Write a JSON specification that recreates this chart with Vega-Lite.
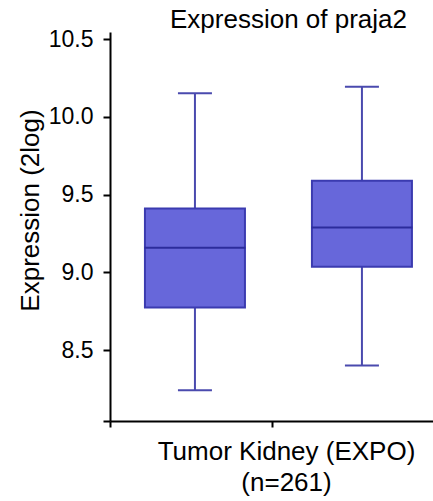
{
  "$schema": "https://vega.github.io/schema/vega-lite/v6.json",
  "autosize": {"type": "none"},
  "padding": {"left": 110, "top": 32, "right": 0, "bottom": 80},
  "width": 323,
  "height": 389,
  "background": "white",
  "title": {
    "text": "Expression of praja2",
    "font": "Liberation Sans",
    "fontSize": 26,
    "fontWeight": "normal",
    "color": "black",
    "anchor": "middle",
    "baseline": "alphabetic",
    "offset": 3,
    "dx": 17,
    "dy": 29
  },
  "data": {
    "values": [
      {"group": "A", "pos": 0.526, "lower": 8.243, "q1": 8.775, "median": 9.158, "q3": 9.411, "upper": 10.151},
      {"group": "B", "pos": 1.56, "lower": 8.402, "q1": 9.036, "median": 9.289, "q3": 9.589, "upper": 10.193}
    ]
  },
  "encoding": {
    "x": {
      "field": "pos",
      "type": "quantitative",
      "scale": {"domain": [0, 2], "nice": false, "zero": false, "padding": 0},
      "axis": {
        "values": [0, 1],
        "labels": false,
        "grid": false,
        "domainColor": "black",
        "domainWidth": 2,
        "tickColor": "black",
        "tickWidth": 2,
        "tickSize": 6,
        "title": ["Tumor Kidney (EXPO)", "(n=261)"],
        "titleFont": "Liberation Sans",
        "titleFontSize": 26,
        "titleFontWeight": "normal",
        "titleColor": "black",
        "titleAlign": "center",
        "titleBaseline": "alphabetic",
        "titleLineHeight": 31,
        "titleX": 176,
        "titleY": 38
      }
    }
  },
  "layer": [
    {
      "mark": {"type": "rule", "color": "#4a4aae", "strokeWidth": 2},
      "encoding": {
        "y": {
          "field": "lower",
          "type": "quantitative",
          "scale": {"domain": [8.045, 10.545], "nice": false, "zero": false, "padding": 0},
          "axis": {
            "values": [8.045, 8.5, 9.0, 9.5, 10.0, 10.5],
            "labelExpr": "datum.value < 8.1 ? '' : format(datum.value, '.1f')",
            "grid": false,
            "domainColor": "black",
            "domainWidth": 2,
            "tickColor": "black",
            "tickWidth": 2,
            "tickSize": 7,
            "labelFont": "Liberation Sans",
            "labelFontSize": 23,
            "labelColor": "black",
            "labelPadding": 10,
            "title": "Expression (2log)",
            "titleFont": "Liberation Sans",
            "titleFontSize": 26,
            "titleFontWeight": "normal",
            "titleColor": "black",
            "titleAngle": -90,
            "titleAlign": "center",
            "titleBaseline": "alphabetic",
            "titleX": -72,
            "titleY": 178
          }
        },
        "y2": {"field": "upper"}
      }
    },
    {
      "mark": {"type": "bar", "orient": "vertical", "size": 100, "fill": "#6767da", "stroke": "#3b3bb0", "strokeWidth": 2},
      "encoding": {
        "y": {"field": "q1", "type": "quantitative"},
        "y2": {"field": "q3"}
      }
    },
    {
      "mark": {"type": "tick", "orient": "horizontal", "size": 101, "thickness": 2, "color": "#2c2c9c", "opacity": 1},
      "encoding": {
        "y": {"field": "median", "type": "quantitative"}
      }
    },
    {
      "mark": {"type": "tick", "orient": "horizontal", "size": 34, "thickness": 2, "color": "#4a4aae", "opacity": 1},
      "encoding": {
        "y": {"field": "lower", "type": "quantitative"}
      }
    },
    {
      "mark": {"type": "tick", "orient": "horizontal", "size": 34, "thickness": 2, "color": "#4a4aae", "opacity": 1},
      "encoding": {
        "y": {"field": "upper", "type": "quantitative"}
      }
    }
  ],
  "config": {
    "view": {"stroke": null},
    "font": "Liberation Sans"
  }
}
